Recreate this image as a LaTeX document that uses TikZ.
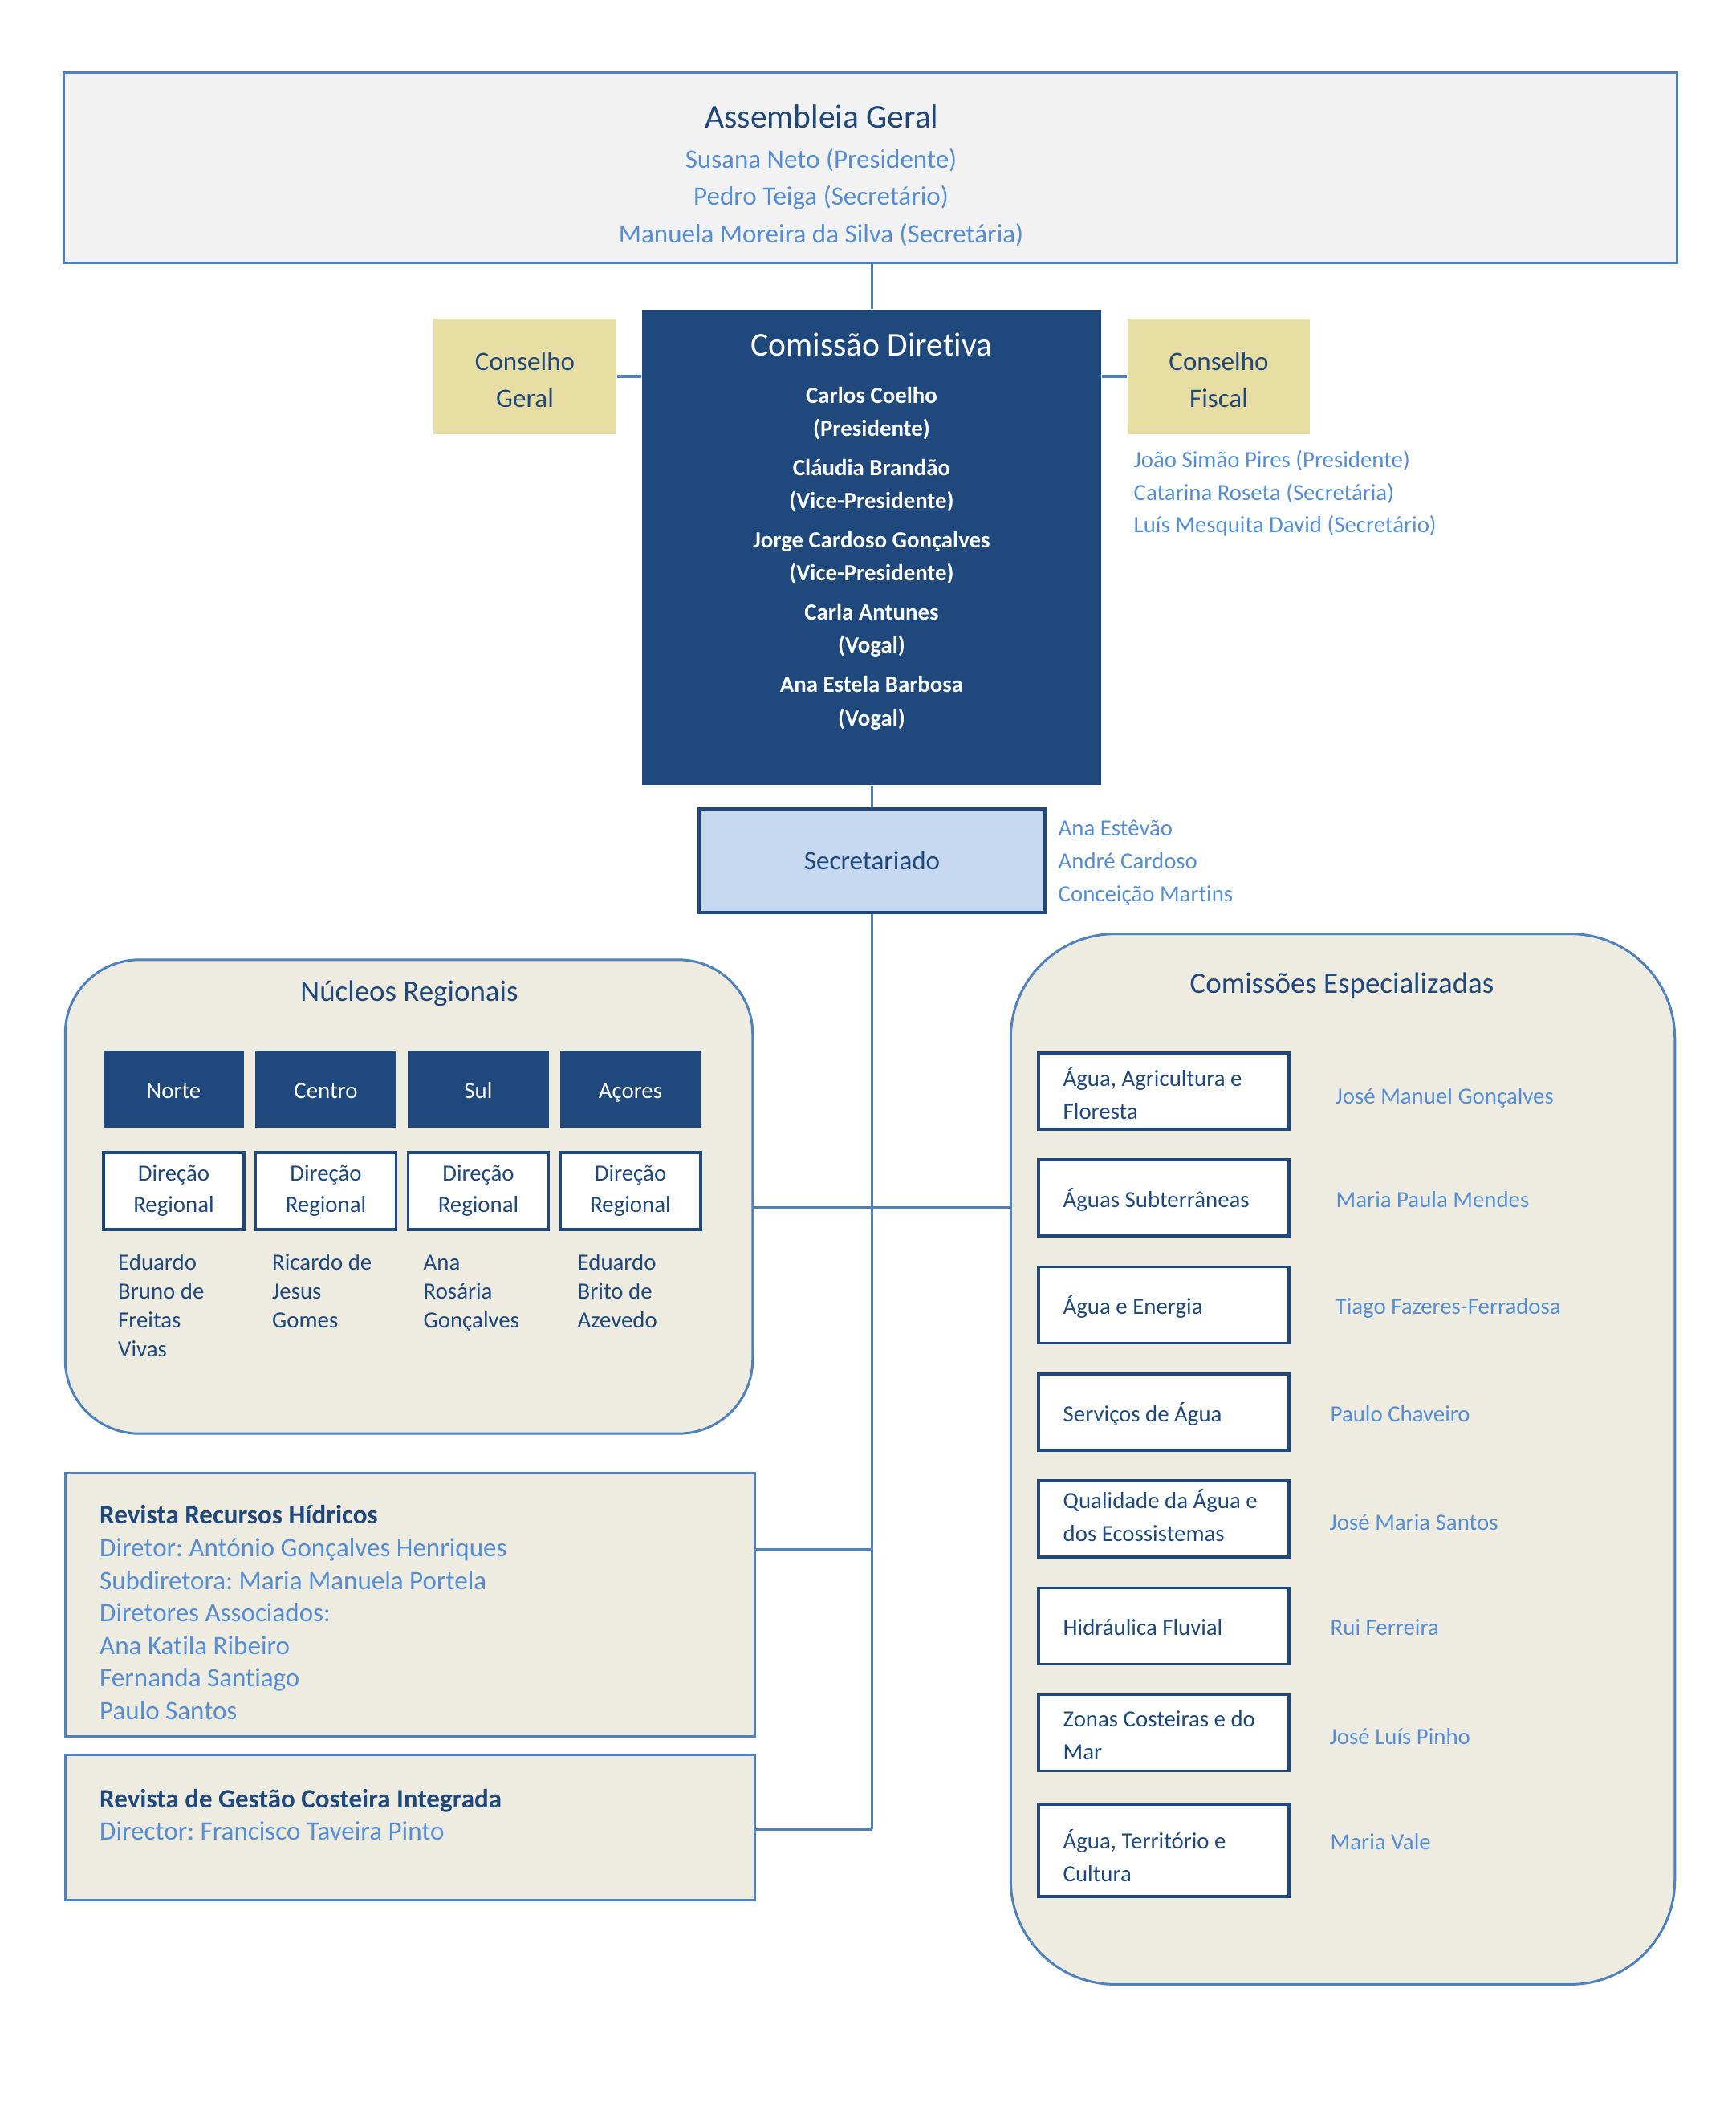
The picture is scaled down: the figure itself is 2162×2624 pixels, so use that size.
\documentclass[tikz,border=0pt]{standalone}
\usepackage{fontspec}
\setmainfont{Carlito}[Ligatures=NoCommon]
\frenchspacing
\definecolor{navy}{HTML}{1F497D}
\definecolor{lineblue}{HTML}{4F81BD}
\definecolor{nameblue}{HTML}{558ED5}
\definecolor{panelgray}{HTML}{F2F2F2}
\definecolor{paneltan}{HTML}{EEECE1}
\definecolor{sand}{HTML}{E8DEA4}
\definecolor{paleblue}{HTML}{C6D9F1}
\newcommand\sizeTitle{\fontsize{11.8}{14}\selectfont}
\newcommand\sizeHead{\fontsize{10.5}{13}\selectfont}
\newcommand\sizeText{\fontsize{9.4}{11.6}\selectfont}
\newcommand\sizeSmall{\fontsize{8.2}{11.1}\selectfont}
\tikzset{
  connector/.style={draw=lineblue, line width=0.03cm},
  panel/.style={draw=lineblue, line width=0.03cm, inner sep=0pt},
  darkbox/.style={fill=navy, text=white, inner sep=0pt},
  framebox/.style={draw=navy, line width=0.035cm, fill=white, text=navy, inner sep=0pt},
  sandbox/.style={fill=sand, inner sep=0pt},
  navytext/.style={text=navy, inner sep=0pt, anchor=mid},
  whitetext/.style={text=white, inner sep=0pt, anchor=mid},
  bluetext/.style={text=nameblue, inner sep=0pt, anchor=mid},
  boxtext/.style={text=navy, inner sep=0pt, anchor=west, align=left, yshift=-0.03cm, font=\fontsize{8.2}{11.66}\selectfont},
}

\begin{document}
\begin{tikzpicture}[x=0.01cm, y=-0.01cm]
			%%%%% START %%%%%
			\useasboundingbox (0,0) rectangle (2162,2624);
			
			% Assembleia Geral
			\node[panel, fill=panelgray, minimum width=20.09cm, minimum height=2.36cm] (ag) at (1084.5,209) {};
			\node[navytext, font=\sizeTitle] (ag-title) at (1024,151) {Assembleia Geral};
			\node[bluetext, font=\sizeText] (ag-1) at (1023,201) {Susana Neto (Presidente)};
			\node[bluetext, font=\sizeText] (ag-2) at (1023,247.5) {Pedro Teiga (Secretário)};
			\node[bluetext, font=\sizeText] (ag-3) at (1023,294) {Manuela Moreira da Silva (Secretária)};
			
			% Comissao Diretiva
			\node[darkbox, minimum width=5.72cm, minimum height=5.92cm] (cd) at (1086,682) {};
			\node[whitetext, font=\sizeTitle] (cd-title) at (1086,435) {Comissão Diretiva};
			\node[whitetext, font=\sizeSmall\bfseries] (cd-1) at (1086,494) {Carlos Coelho};
			\node[whitetext, font=\sizeSmall\bfseries] (cd-1r) at (1086,535) {(Presidente)};
			\node[whitetext, font=\sizeSmall\bfseries] (cd-2) at (1086,584) {Cláudia Brandão};
			\node[whitetext, font=\sizeSmall\bfseries] (cd-2r) at (1086,625) {(Vice-Presidente)};
			\node[whitetext, font=\sizeSmall\bfseries] (cd-3) at (1086,674) {Jorge Cardoso Gonçalves};
			\node[whitetext, font=\sizeSmall\bfseries] (cd-3r) at (1086,715) {(Vice-Presidente)};
			\node[whitetext, font=\sizeSmall\bfseries] (cd-4) at (1086,764) {Carla Antunes};
			\node[whitetext, font=\sizeSmall\bfseries] (cd-4r) at (1086,805) {(Vogal)};
			\node[whitetext, font=\sizeSmall\bfseries] (cd-5) at (1086,854.5) {Ana Estela Barbosa};
			\node[whitetext, font=\sizeSmall\bfseries] (cd-5r) at (1086,896) {(Vogal)};
			
			\draw[connector] (ag.south -| cd.north) -- (cd.north);
			
			% Conselhos
			\node[sandbox, minimum width=2.275cm, minimum height=1.445cm] (cg) at (654,469) {};
			\node[sandbox, minimum width=2.275cm, minimum height=1.445cm] (cf) at (1518.5,469) {};
			\node[navytext, anchor=center, align=center, font=\fontsize{9.4}{13.1}\selectfont] (cg-t) at ([yshift=-0.04cm]cg.center) {Conselho\\Geral};
			\node[navytext, anchor=center, align=center, font=\fontsize{9.4}{13.1}\selectfont] (cf-t) at ([yshift=-0.04cm]cf.center) {Conselho\\Fiscal};
			\draw[connector, line width=0.04cm] (cg.east) -- (cd.west |- cg.east);
			\draw[connector, line width=0.04cm] (cd.east |- cf.west) -- (cf.west);
			
			\node[bluetext, anchor=mid west, font=\sizeSmall] (cf-1) at (1412,574) {João Simão Pires (Presidente)};
			\node[bluetext, anchor=mid west, font=\sizeSmall] (cf-2) at (1412,615) {Catarina Roseta (Secretária)};
			\node[bluetext, anchor=mid west, font=\sizeSmall] (cf-3) at (1412,655) {Luís Mesquita David (Secretário)};
			
			% Secretariado
			\node[framebox, fill=paleblue, line width=0.04cm, minimum width=4.31cm, minimum height=1.29cm, font=\sizeText] (sec) at (1086.5,1072.5) {Secretariado};
			\draw[connector] (cd.south -| sec.north) -- (sec.north);
			
			\node[bluetext, anchor=mid west, font=\sizeSmall] (sec-1) at (1318,1033) {Ana Estêvão};
			\node[bluetext, anchor=mid west, font=\sizeSmall] (sec-2) at (1318,1074) {André Cardoso};
			\node[bluetext, anchor=mid west, font=\sizeSmall] (sec-3) at (1318,1115) {Conceição Martins};
			
			% Nucleos Regionais
			\node[panel, fill=paneltan, rounded corners=0.92cm, minimum width=8.56cm, minimum height=5.9cm] (nr) at (509.5,1491) {};
			\node[navytext, font=\sizeHead] (nr-title) at (510,1239) {Núcleos Regionais};
			
			\node[darkbox, minimum width=1.75cm, minimum height=0.965cm, font=\sizeSmall, text height=0.23cm, text depth=0cm] (nr-norte) at (216.5,1357) {Norte};
			\node[darkbox, minimum width=1.75cm, minimum height=0.965cm, font=\sizeSmall, text height=0.23cm, text depth=0cm] (nr-centro) at (406,1357) {Centro};
			\node[darkbox, minimum width=1.75cm, minimum height=0.965cm, font=\sizeSmall, text height=0.23cm, text depth=0cm] (nr-sul) at (596,1357) {Sul};
			\node[darkbox, minimum width=1.75cm, minimum height=0.965cm, font=\sizeSmall, text height=0.23cm, text depth=0cm] (nr-acores) at (785.5,1357) {Açores};
			
			\node[framebox, minimum width=1.75cm, minimum height=0.96cm, align=center, font=\sizeSmall] (dr-norte) at (216.5,1484) {Direção\\Regional};
			\node[framebox, minimum width=1.75cm, minimum height=0.96cm, align=center, font=\sizeSmall] (dr-centro) at (406,1484) {Direção\\Regional};
			\node[framebox, minimum width=1.75cm, minimum height=0.96cm, align=center, font=\sizeSmall] (dr-sul) at (596,1484) {Direção\\Regional};
			\node[framebox, minimum width=1.75cm, minimum height=0.96cm, align=center, font=\sizeSmall] (dr-acores) at (785.5,1484) {Direção\\Regional};
			
			\node[navytext, anchor=mid west, font=\sizeSmall] (nm-norte-1) at (146.5,1574) {Eduardo};
			\node[navytext, anchor=mid west, font=\sizeSmall] (nm-norte-2) at (146.5,1610) {Bruno de};
			\node[navytext, anchor=mid west, font=\sizeSmall] (nm-norte-3) at (146.5,1646) {Freitas};
			\node[navytext, anchor=mid west, font=\sizeSmall] (nm-norte-4) at (146.5,1682) {Vivas};
			\node[navytext, anchor=mid west, font=\sizeSmall] (nm-centro-1) at (338.5,1574) {Ricardo de};
			\node[navytext, anchor=mid west, font=\sizeSmall] (nm-centro-2) at (338.5,1610) {Jesus};
			\node[navytext, anchor=mid west, font=\sizeSmall] (nm-centro-3) at (338.5,1646) {Gomes};
			\node[navytext, anchor=mid west, font=\sizeSmall] (nm-sul-1) at (527,1574) {Ana};
			\node[navytext, anchor=mid west, font=\sizeSmall] (nm-sul-2) at (527,1610) {Rosária};
			\node[navytext, anchor=mid west, font=\sizeSmall] (nm-sul-3) at (527,1646) {Gonçalves};
			\node[navytext, anchor=mid west, font=\sizeSmall] (nm-acores-1) at (719,1574) {Eduardo};
			\node[navytext, anchor=mid west, font=\sizeSmall] (nm-acores-2) at (719,1610) {Brito de};
			\node[navytext, anchor=mid west, font=\sizeSmall] (nm-acores-3) at (719,1646) {Azevedo};
			
			% Comissoes Especializadas
			\node[panel, fill=paneltan, rounded corners=1.3cm, minimum width=8.27cm, minimum height=13.08cm] (ce) at (1673,1818) {};
			\node[navytext, font=\sizeHead] (ce-title) at (1672,1229) {Comissões Especializadas};
			
			\node[framebox, minimum width=3.12cm, minimum height=0.95cm] (ce-1) at (1450,1359.5) {};
			\node[framebox, minimum width=3.12cm, minimum height=0.95cm] (ce-2) at (1450,1492.5) {};
			\node[framebox, minimum width=3.12cm, minimum height=0.95cm] (ce-3) at (1450,1626) {};
			\node[framebox, minimum width=3.12cm, minimum height=0.95cm] (ce-4) at (1450,1759.5) {};
			\node[framebox, minimum width=3.12cm, minimum height=0.95cm] (ce-5) at (1450,1892.5) {};
			\node[framebox, minimum width=3.12cm, minimum height=0.95cm] (ce-6) at (1450,2026) {};
			\node[framebox, minimum width=3.12cm, minimum height=0.95cm] (ce-7) at (1450,2159) {};
			\node[framebox, minimum width=3.12cm, minimum height=1.15cm] (ce-8) at (1450,2305.5) {};
			
			\node[boxtext] (ce-1t) at ([xshift=0.318cm]ce-1.west) {Água, Agricultura e\\Floresta};
			\node[boxtext, yshift=0.01cm] (ce-2t) at ([xshift=0.318cm]ce-2.west) {Águas Subterrâneas};
			\node[boxtext, yshift=0.01cm] (ce-3t) at ([xshift=0.318cm]ce-3.west) {Água e Energia};
			\node[boxtext, yshift=0.01cm] (ce-4t) at ([xshift=0.318cm]ce-4.west) {Serviços de Água};
			\node[boxtext, yshift=0.075cm] (ce-5t) at ([xshift=0.318cm]ce-5.west) {Qualidade da Água e\\dos Ecossistemas};
			\node[boxtext, yshift=0.01cm] (ce-6t) at ([xshift=0.318cm]ce-6.west) {Hidráulica Fluvial};
			\node[boxtext] (ce-7t) at ([xshift=0.318cm]ce-7.west) {Zonas Costeiras e do\\Mar};
			\node[boxtext, yshift=-0.04cm] (ce-8t) at ([xshift=0.318cm]ce-8.west) {Água, Território e\\Cultura};
			
			\node[bluetext, anchor=mid west, font=\sizeSmall] (ce-1n) at (1663,1367) {José Manuel Gonçalves};
			\node[bluetext, anchor=mid west, font=\sizeSmall] (ce-2n) at (1664,1496) {Maria Paula Mendes};
			\node[bluetext, anchor=mid west, font=\sizeSmall] (ce-3n) at (1663,1629) {Tiago Fazeres-Ferradosa};
			\node[bluetext, anchor=mid west, font=\sizeSmall] (ce-4n) at (1657,1763) {Paulo Chaveiro};
			\node[bluetext, anchor=mid west, font=\sizeSmall] (ce-5n) at (1656,1898) {José Maria Santos};
			\node[bluetext, anchor=mid west, font=\sizeSmall] (ce-6n) at (1657,2029) {Rui Ferreira};
			\node[bluetext, anchor=mid west, font=\sizeSmall] (ce-7n) at (1656,2165) {José Luís Pinho};
			\node[bluetext, anchor=mid west, font=\sizeSmall] (ce-8n) at (1657,2296) {Maria Vale};
			
			% Revistas
			\node[panel, fill=paneltan, minimum width=8.58cm, minimum height=3.275cm] (rv1) at (511,1999.75) {};
			\node[navytext, anchor=mid west, font=\sizeText\bfseries] (rv1-title) at (123.5,1890) {Revista Recursos Hídricos};
			\node[bluetext, anchor=mid west, font=\sizeText] (rv1-1) at (123.5,1931) {Diretor: António Gonçalves Henriques};
			\node[bluetext, anchor=mid west, font=\sizeText] (rv1-2) at (123.5,1972) {Subdiretora: Maria Manuela Portela};
			\node[bluetext, anchor=mid west, font=\sizeText] (rv1-3) at (123.5,2012.5) {Diretores Associados:};
			\node[bluetext, anchor=mid west, font=\sizeText] (rv1-4) at (123.5,2053) {Ana Katila Ribeiro};
			\node[bluetext, anchor=mid west, font=\sizeText] (rv1-5) at (123.5,2093.5) {Fernanda Santiago};
			\node[bluetext, anchor=mid west, font=\sizeText] (rv1-6) at (123.5,2134) {Paulo Santos};
			
			\node[panel, fill=paneltan, minimum width=8.58cm, minimum height=1.805cm] (rv2) at (511,2277) {};
			\node[navytext, anchor=mid west, font=\sizeText\bfseries] (rv2-title) at (123.5,2244) {Revista de Gestão Costeira Integrada};
			\node[bluetext, anchor=mid west, font=\sizeText] (rv2-1) at (123.5,2284) {Director: Francisco Taveira Pinto};
			
			% Ligacoes
			\coordinate (j1) at (1086.5,1504);
			\coordinate (j2) at (1086.5,1930);
			\coordinate (j3) at (1086.5,2279);
			\draw[connector] (sec.south) -- (j3);
			\draw[connector] (nr.east |- j1) -- (ce.west |- j1);
			\draw[connector] (rv1.east |- j2) -- (j2);
			\draw[connector] (rv2.east |- j3) -- (j3);
			
			%%%%% END %%%%%
\end{tikzpicture}
\end{document}
